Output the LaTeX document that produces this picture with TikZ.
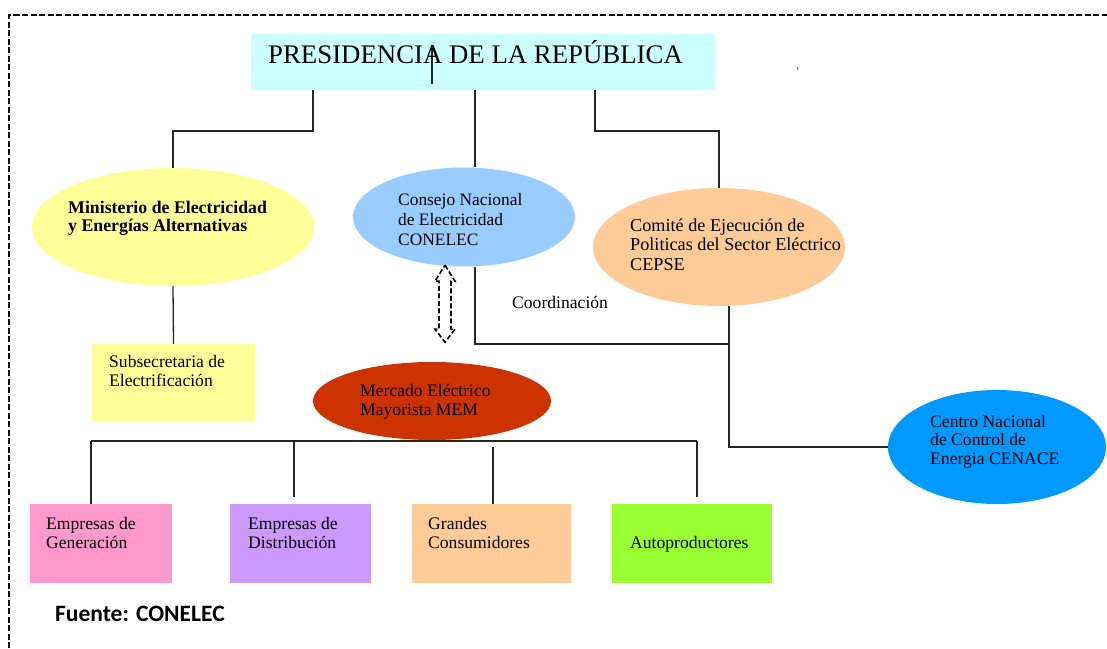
\documentclass[tikz,border=0pt]{standalone}
\usepackage{fontspec}
\setmainfont{Liberation Serif}
\newfontfamily\fuentefont{Carlito}
\usetikzlibrary{calc,shapes.geometric}

\definecolor{presidcol}{HTML}{CCFFFF}
\definecolor{ministcol}{HTML}{FFFF99}
\definecolor{conelcol}{HTML}{99CCFF}
\definecolor{cepsecol}{HTML}{FFCC99}
\definecolor{cenacecol}{HTML}{0099FF}
\definecolor{memcol}{HTML}{CC3300}
\definecolor{gencol}{HTML}{FF99CC}
\definecolor{distcol}{HTML}{CC99FF}
\definecolor{autocol}{HTML}{99FF33}

\newcommand{\lineas}[1]{\begin{tabular}[t]{@{}l@{}}#1\end{tabular}}

\tikzset{
	caja/.style={rectangle, inner sep=0pt, draw=none},
	elipse/.style={ellipse, inner sep=0pt, draw=none},
	linea/.style={line width=1.3pt, color=black!85},
	texto/.style={anchor=base west, inner sep=0pt, font=\fontsize{17.6}{19.5}\selectfont},
	marco/.style={line width=2pt, dash pattern=on 6pt off 2.5pt},
	flechadoble/.style={line width=1.6pt, dash pattern=on 5pt off 2.5pt, line join=miter}
}

\begin{document}
\begin{tikzpicture}[x=1pt, y=-1pt]
			%%%%% START %%%%%
			\useasboundingbox (0,0) rectangle (1107,648);
			
			\draw[marco] (9,648) -- (9,15) -- (1107,15);
			\fill[black!55] (796.5,67) rectangle (798,69.5);
			
			\node[caja, fill=presidcol, minimum width=464pt, minimum height=56pt] (presid) at (483,62) {};
			\node[elipse, fill=ministcol, minimum width=282pt, minimum height=118pt] (minist) at (173,227) {};
			\node[elipse, fill=conelcol, minimum width=222pt, minimum height=99pt] (conelec) at (464,217) {};
			\node[elipse, fill=cepsecol, minimum width=252pt, minimum height=118pt] (cepse) at (719,247) {};
			\node[elipse, fill=cenacecol, minimum width=218pt, minimum height=114pt] (cenace) at (997,447) {};
			\node[elipse, fill=memcol, minimum width=238pt, minimum height=78pt] (mem) at (432,401) {};
			\node[caja, fill=ministcol, minimum width=163pt, minimum height=78pt] (subsec) at (173.5,383) {};
			
			\node[caja, fill=gencol, minimum width=142pt, minimum height=79pt] (gen) at (101,543.5) {};
			\node[caja, fill=distcol, minimum width=141pt, minimum height=79pt] (dist) at (300.5,543.5) {};
			\node[caja, fill=cepsecol, minimum width=159pt, minimum height=79pt] (gran) at (491.5,543.5) {};
			\node[caja, fill=autocol, minimum width=160pt, minimum height=79pt] (autop) at (692,543.5) {};
			
			% lineas desde la presidencia
			\draw[linea] (432,45) -- (432,84);
			\coordinate (j1) at (313,131);
			\draw[linea] (presid.south -| j1) -- (j1) -| (minist.north);
			\coordinate (c-top) at ([xshift=11pt]conelec.north);
			\draw[linea] (presid.south -| c-top) -- (c-top);
			\coordinate (j3) at (595,131);
			\draw[linea] (presid.south -| j3) -- (j3) -| (cepse.north);
			\draw[linea] (minist.south) -- (subsec.north);
			
			% coordinacion
			\coordinate (c-bot) at ([xshift=11pt]conelec.south);
			\coordinate (e-bot) at ([xshift=10pt]cepse.south);
			\coordinate (coord) at (729,344);
			\draw[linea] (c-bot) |- (coord);
			\draw[linea] (e-bot) |- (cenace.west);
			
			\draw[flechadoble] ($(conelec.south)+(-19,-1.5)$) -- ++(10,16) -- ++(-4,0) -- ++(0,48) -- ++(4,0) -- ++(-10,13)
				-- ++(-10,-13) -- ++(4,0) -- ++(0,-48) -- ++(-4,0) -- cycle;
			
			% mercado
			\coordinate (b1) at (91,441);
			\coordinate (b2) at (294,441);
			\coordinate (b3) at (493,441);
			\coordinate (b4) at (697,441);
			\draw[linea] (b1) -- (b4);
			\draw[linea] (b1) -- (b1 |- gen.north);
			\draw[linea] (b2) -- ($(b2 |- dist.north)+(0,-7)$);
			\draw[linea] ($(b3)+(0,6)$) -- (b3 |- gran.north);
			\draw[linea] (b4) -- ($(b4 |- autop.north)+(0,-7)$);
			
			% textos
			\node[texto, font=\fontsize{26.8}{30}\selectfont] (t-presid) at (268,63) {PRESIDENCIA DE LA REPÚBLICA};
			\node[texto, font=\bfseries\fontsize{17.8}{18}\selectfont] (t-minist) at (68,213) {\lineas{Ministerio de Electricidad\\y Energías Alternativas}};
			\node[texto] (t-subsec) at (109,367) {\lineas{Subsecretaria de\\Electrificación}};
			\node[texto, font=\fontsize{17.4}{20}\selectfont] (t-conelec) at (398,205) {\lineas{Consejo Nacional\\de Electricidad\\CONELEC}};
			\node[texto, font=\fontsize{18.2}{19.5}\selectfont] (t-cepse) at (630,231) {\lineas{Comité de Ejecución de\\Politicas del Sector Eléctrico\\CEPSE}};
			\node[texto, font=\fontsize{17.6}{18.5}\selectfont] (t-cenace) at (930,427) {\lineas{Centro Nacional\\de Control de\\Energia CENACE}};
			\node[texto] (t-coord) at (512,308) {Coordinación};
			\node[texto] (t-mem) at (360,396) {\lineas{Mercado Eléctrico\\Mayorista MEM}};
			\node[texto] (t-gen) at (46,529) {\lineas{Empresas de\\Generación}};
			\node[texto] (t-dist) at (248,529) {\lineas{Empresas de\\Distribución}};
			\node[texto] (t-gran) at (428,529) {\lineas{Grandes\\Consumidores}};
			\node[texto] (t-autop) at (630,548) {Autoproductores};
			
			\node[anchor=base west, inner sep=0pt, font=\fuentefont\bfseries\fontsize{23.5}{26}\selectfont] (fuente) at (55,621) {Fuente: CONELEC};
			%%%%% END %%%%%
\end{tikzpicture}
\end{document}
